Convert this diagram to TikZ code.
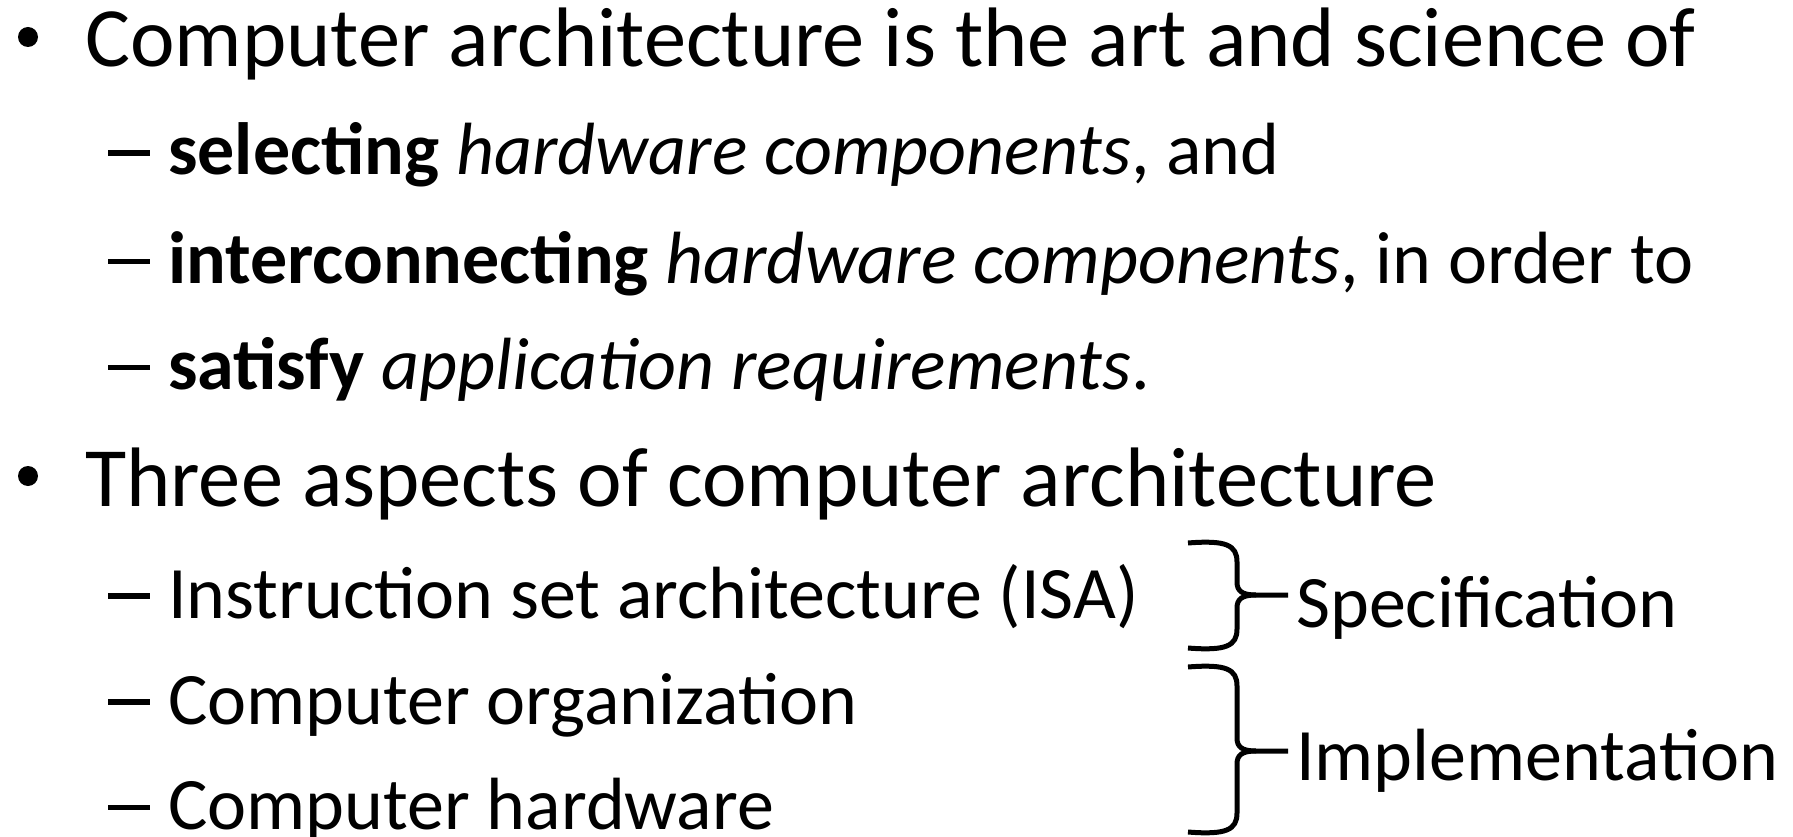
\documentclass[tikz,border=0pt]{standalone}
\usepackage{fontspec}
\setmainfont{Carlito}
\begin{document}
\begin{tikzpicture}[x=1pt,y=-1pt]
\tikzset{
  L1/.style={anchor=base west, inner sep=0pt, font=\fontsize{84.4}{100}\selectfont},
  L2/.style={anchor=base west, inner sep=0pt, font=\fontsize{74}{90}\selectfont},
  bul/.style={circle, fill=black, inner sep=0pt, minimum size=20pt},
  dashmark/.style={rectangle, fill=black, inner sep=0pt, minimum width=42pt, minimum height=5.3pt, anchor=west},
  bracestroke/.style={line width=5pt, line join=round, line cap=butt}
}
\useasboundingbox (0,0) rectangle (1793,837);
% first bullet
\node[bul] (b1) at (28,37) {};
\node[L1] (t1) at (85,67) {Computer architecture is the art and science of};
\node[dashmark] (d1) at (108,153) {};
\node[L2] (s1) at (168,175) {\textbf{selecting} \textit{hardware components}, and};
\node[dashmark] (d2) at (108,261.5) {};
\node[L2] (s2) at (168,283.5) {\textbf{interconnecting} \textit{hardware components}, in order to};
\node[dashmark] (d3) at (108,367.5) {};
\node[L2] (s3) at (168,389.5) {\textbf{satisfy} \textit{application requirements}.};
% second bullet
\node[bul] (b2) at (28,476) {};
\node[L1] (t2) at (85,506) {Three aspects of computer architecture};
\node[dashmark] (d4) at (108,596) {};
\node[L2] (s4) at (168,618) {Instruction set architecture (ISA)};
\node[dashmark] (d5) at (108,702) {};
\node[L2] (s5) at (168,724) {Computer organization};
\node[dashmark] (d6) at (108,807.5) {};
\node[L2] (s6) at (168,829.5) {Computer hardware};
% braces
\coordinate (sp) at (1288,595);
\coordinate (im) at (1288,751);
\draw[bracestroke] (1188,543) .. controls (1226,540) and (1237,545) .. (1237,562)
  -- (1237,582) .. controls (1237,591) and (1242,595) .. (1256,595) -- (sp);
\draw[bracestroke] (1188,648) .. controls (1226,651) and (1237,646) .. (1237,629)
  -- (1237,608) .. controls (1237,599) and (1242,595) .. (1256,595);
\node[L2] (spec) at (1296,627) {Specification};
\draw[bracestroke] (1188,667) .. controls (1226,664) and (1237,669) .. (1237,686)
  -- (1237,738) .. controls (1237,747) and (1242,751) .. (1256,751) -- (im);
\draw[bracestroke] (1188,832) .. controls (1226,835) and (1237,830) .. (1237,813)
  -- (1237,764) .. controls (1237,755) and (1242,751) .. (1256,751);
\node[L2] (impl) at (1296,780) {Implementation};
\end{tikzpicture}
\end{document}
